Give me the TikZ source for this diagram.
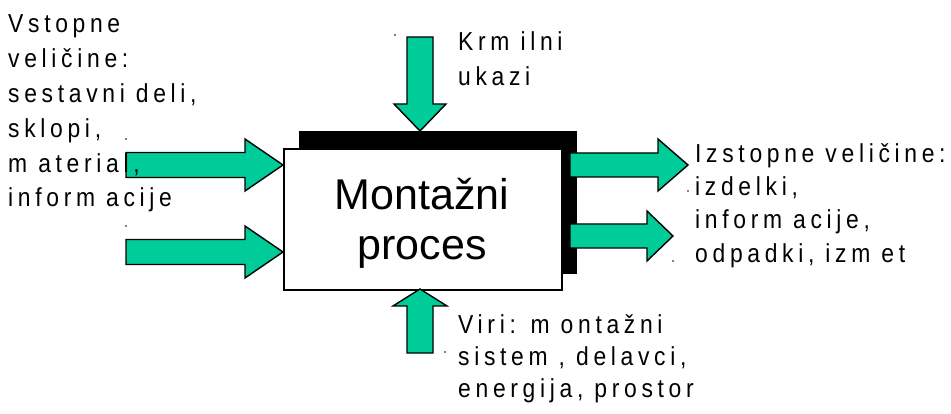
\documentclass[tikz,border=0pt]{standalone}
\usepackage{fontspec}
\setmainfont{Liberation Sans}
\newfontfamily\labelfont[FakeStretch=0.88, LetterSpace=18]{Liberation Sans}
\definecolor{flowgreen}{RGB}{0,204,153}

% horizontal block arrow: tail x, head base x, tip x, centre y, shaft half width, head half width
\newcommand\harrow[6]{%
  \draw[blockarrow] (#1,#4-#5) -- (#2,#4-#5) -- (#2,#4-#6) -- (#3,#4)
    -- (#2,#4+#6) -- (#2,#4+#5) -- (#1,#4+#5) -- cycle;}
% vertical block arrow: tail y, head base y, tip y, centre x, shaft half width, head half width
\newcommand\varrow[6]{%
  \draw[blockarrow] (#4-#5,#1) -- (#4-#5,#2) -- (#4-#6,#2) -- (#4,#3)
    -- (#4+#6,#2) -- (#4+#5,#2) -- (#4+#5,#1) -- cycle;}

\tikzset{
  blockarrow/.style={draw=black, line width=1.4pt, fill=flowgreen, line join=miter},
  label/.style={anchor=base west, align=left, inner sep=0pt,
    font=\labelfont\fontsize{26}{34.8}\selectfont},
  tick/.style={fill=black, draw=none},
}

\begin{document}
\begin{tikzpicture}[x=1pt, y=-1pt]
  \useasboundingbox (0,0) rectangle (951,414);

  % shadow and process box
  \fill[black] (299,131) rectangle (577,274);
  \node[draw=black, line width=1.8pt, fill=white, minimum width=278pt,
        minimum height=141pt, inner sep=0pt, anchor=north west] (box) at (283,148) {};
  \node[anchor=base, align=center, inner sep=0pt,
        font=\fontsize{43}{51}\selectfont] (title) at (422,260) {Montažni\\proces};

  % inputs
  \harrow{126}{245}{283}{165}{12.5}{26}
  \harrow{126}{245}{283}{252}{12.5}{26}
  % outputs
  \harrow{570}{658}{688}{165}{12}{26}
  \harrow{570}{647}{673}{236}{12}{25}
  % control and resources
  \varrow{37}{104}{131}{420}{13}{26}
  \varrow{353}{306}{289}{420}{13}{27}

  % small markers
  \foreach \p in {(126,139),(126,226),(395,35),(688,191),(673,261),(445,352)}
    \fill[tick] \p circle (0.9pt);

  % labels
  \node[label] (inputs) at (8,207)
    {Vstopne\\veličine:\\sestavni deli,\\sklopi,\\m aterial,\\inform acije};
  \node[label, font=\labelfont\fontsize{26}{35}\selectfont]
    (control) at (458,86) {Krm ilni\\ukazi};
  \node[label, font=\labelfont\fontsize{26}{33.3}\selectfont]
    (outputs) at (695,262)
    {Izstopne veličine:\\izdelki,\\inform acije,\\odpadki, izm et};
  \node[label, font=\labelfont\fontsize{26}{32}\selectfont]
    (resources) at (458,397)
    {Viri: m ontažni\\sistem , delavci,\\energija, prostor};
\end{tikzpicture}
\end{document}
